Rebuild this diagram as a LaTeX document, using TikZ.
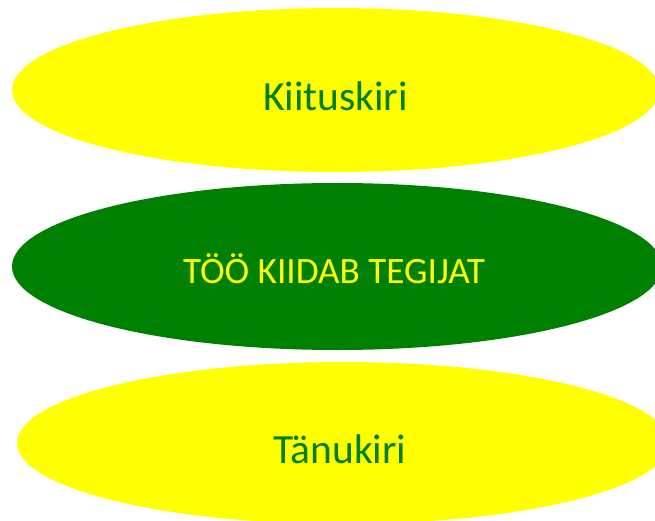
\documentclass[tikz,border=0pt]{standalone}
\usepackage{fontspec}
\setmainfont{Carlito}
\usetikzlibrary{shapes.geometric}
\definecolor{dgreen}{RGB}{0,128,0}
\definecolor{yel}{RGB}{255,255,0}
\tikzset{
  oval/.style={ellipse, inner sep=0pt, draw=none},
  big/.style={font=\fontsize{41.5}{49}\selectfont, anchor=base, inner sep=0pt},
  mid/.style={font=\fontsize{37.2}{44}\selectfont, anchor=base, inner sep=0pt},
}
\begin{document}
\begin{tikzpicture}[x=1pt,y=-1pt]
\useasboundingbox (0,0) rectangle (655,521);
\clip (0,0) rectangle (655,521);
\node[oval, fill=yel, minimum width=647pt, minimum height=164pt] (top) at (335.6,90) {};
\node[oval, fill=dgreen, minimum width=650pt, minimum height=167pt] (midd) at (337,266.5) {};
\node[oval, fill=yel, minimum width=652pt, minimum height=162pt] (bot) at (343,443) {};
\node[big, text=dgreen] (t1) at (335.5,111) {Kiituskiri};
\node[mid, text=yel] (t2) at (334,283) {TÖÖ KIIDAB TEGIJAT};
\node[big, text=dgreen] (t3) at (340,463) {Tänukiri};
\end{tikzpicture}
\end{document}
